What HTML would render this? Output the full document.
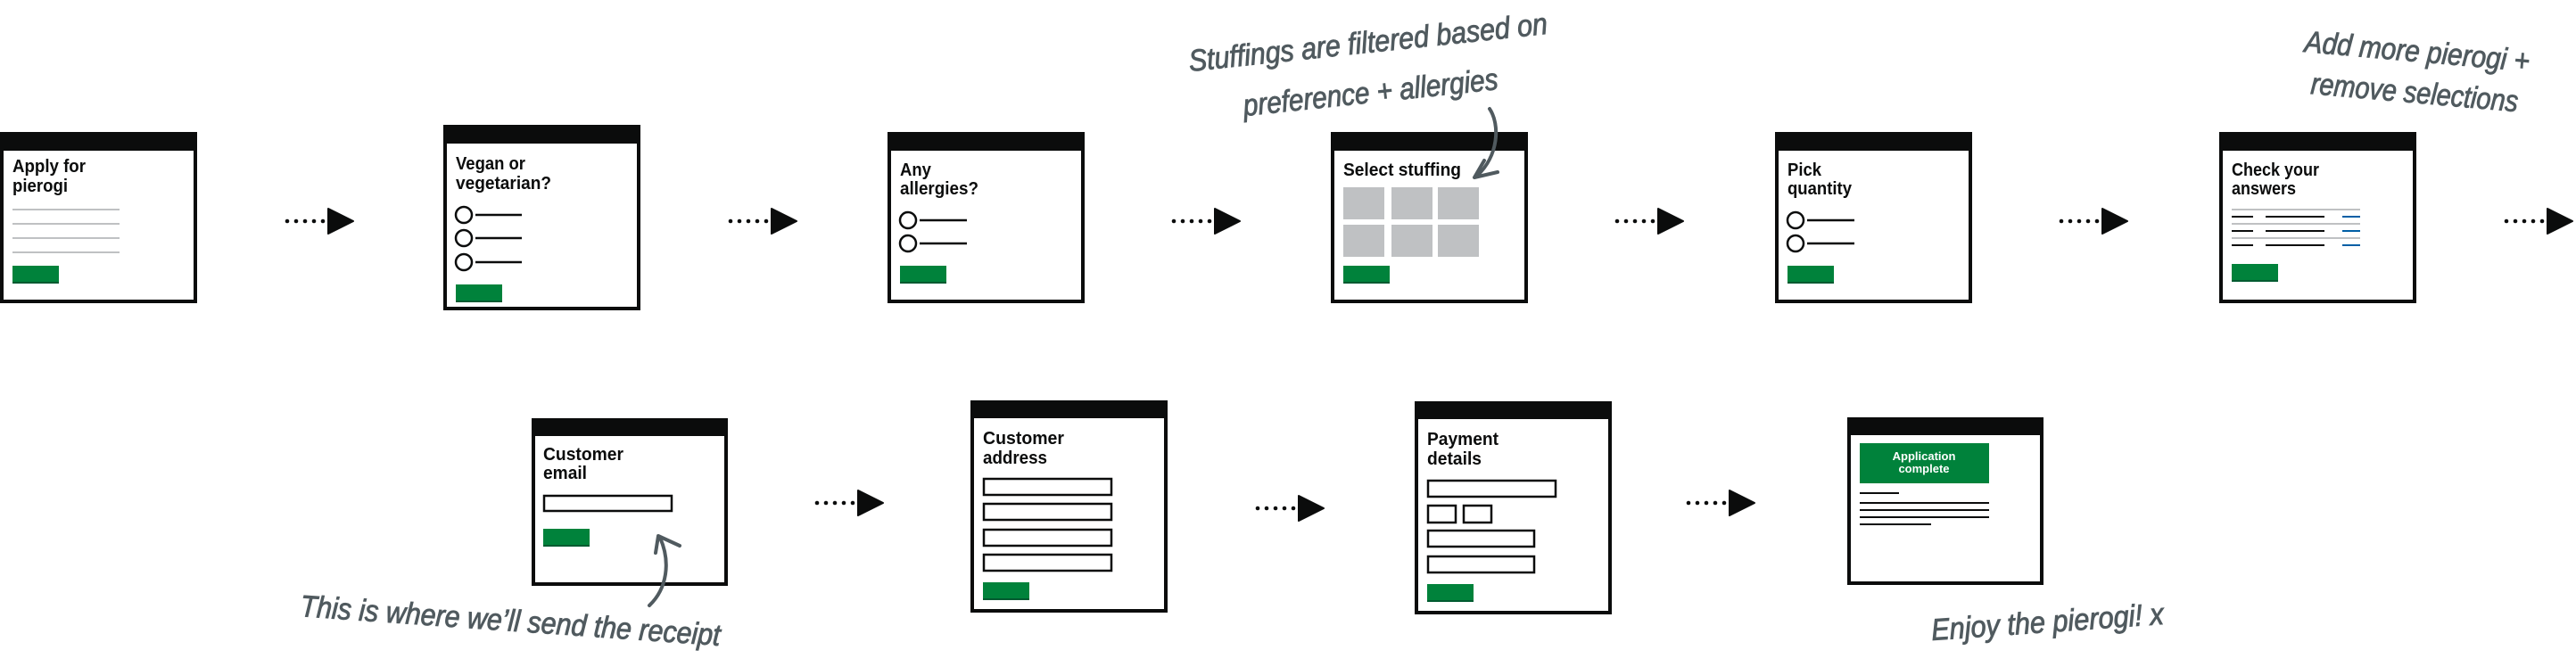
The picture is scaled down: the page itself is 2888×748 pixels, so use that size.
<!DOCTYPE html>
<html><head><meta charset="utf-8"><style>
html,body{margin:0;padding:0;background:#fff;}
svg{display:block}
.t{font-family:"Liberation Sans",sans-serif;font-weight:bold;font-size:20px;fill:#0b0c0c}
.h{font-family:"Liberation Sans",sans-serif;font-style:italic;font-size:34px;fill:#505a5f;stroke:#505a5f;stroke-width:0.9}
</style></head><body>
<svg width="2888" height="748" viewBox="0 0 2888 748" xmlns="http://www.w3.org/2000/svg">
<defs>
<g id="arr"><circle cx="2" cy="0" r="2.3" fill="#0b0c0c"/><circle cx="12" cy="0" r="2.3" fill="#0b0c0c"/><circle cx="22" cy="0" r="2.3" fill="#0b0c0c"/><circle cx="32" cy="0" r="2.3" fill="#0b0c0c"/><circle cx="42" cy="0" r="2.3" fill="#0b0c0c"/><path d="M48,-14 L76,0 L48,14 Z" fill="#0b0c0c" stroke="#0b0c0c" stroke-width="2" stroke-linejoin="round"/></g>
<g id="btn"><rect x="0" y="0" width="52" height="20" fill="#00823b"/><rect x="0" y="18" width="52" height="2" fill="#005a30"/></g>
</defs>

<!-- Box1 -->
<rect x="2" y="150" width="217" height="188" fill="#fff" stroke="#0b0c0c" stroke-width="4"/>
<rect x="0" y="148" width="221" height="21" fill="#0b0c0c"/>
<text class="t" x="14" y="193" textLength="82" lengthAdjust="spacingAndGlyphs">Apply for</text>
<text class="t" x="14" y="215" textLength="62" lengthAdjust="spacingAndGlyphs">pierogi</text>
<g stroke="#bfc1c3" stroke-width="2"><line x1="14" y1="235" x2="134" y2="235"/><line x1="14" y1="251" x2="134" y2="251"/><line x1="14" y1="267" x2="134" y2="267"/><line x1="14" y1="283" x2="134" y2="283"/></g>
<use href="#btn" x="14" y="298"/>
<use href="#arr" x="320" y="248"/>

<!-- Box2 -->
<rect x="499" y="142" width="217" height="204" fill="#fff" stroke="#0b0c0c" stroke-width="4"/>
<rect x="497" y="140" width="221" height="21" fill="#0b0c0c"/>
<text class="t" x="511" y="190" textLength="78" lengthAdjust="spacingAndGlyphs">Vegan or</text>
<text class="t" x="511" y="212" textLength="107" lengthAdjust="spacingAndGlyphs">vegetarian?</text>
<g fill="none" stroke="#0b0c0c" stroke-width="2.5"><circle cx="520" cy="241" r="9"/><circle cx="520" cy="267" r="9"/><circle cx="520" cy="294" r="9"/></g>
<g stroke="#0b0c0c" stroke-width="2.5"><line x1="533" y1="241" x2="585" y2="241"/><line x1="533" y1="267" x2="585" y2="267"/><line x1="533" y1="294" x2="585" y2="294"/></g>
<use href="#btn" x="511" y="319"/>
<use href="#arr" x="817" y="248"/>

<!-- Box3 -->
<rect x="997" y="150" width="217" height="188" fill="#fff" stroke="#0b0c0c" stroke-width="4"/>
<rect x="995" y="148" width="221" height="21" fill="#0b0c0c"/>
<text class="t" x="1009" y="197" textLength="35" lengthAdjust="spacingAndGlyphs">Any</text>
<text class="t" x="1009" y="218" textLength="88" lengthAdjust="spacingAndGlyphs">allergies?</text>
<g fill="none" stroke="#0b0c0c" stroke-width="2.5"><circle cx="1018" cy="247" r="9"/><circle cx="1018" cy="273" r="9"/></g>
<g stroke="#0b0c0c" stroke-width="2.5"><line x1="1031" y1="247" x2="1084" y2="247"/><line x1="1031" y1="273" x2="1084" y2="273"/></g>
<use href="#btn" x="1009" y="298"/>
<use href="#arr" x="1314" y="248"/>

<!-- Box4 -->
<rect x="1494" y="150" width="217" height="188" fill="#fff" stroke="#0b0c0c" stroke-width="4"/>
<rect x="1492" y="148" width="221" height="21" fill="#0b0c0c"/>
<text class="t" x="1506" y="197" textLength="132" lengthAdjust="spacingAndGlyphs">Select stuffing</text>
<g fill="#bfc1c3"><rect x="1506" y="210" width="46" height="36"/><rect x="1560" y="210" width="46" height="36"/><rect x="1612" y="210" width="46" height="36"/><rect x="1506" y="252" width="46" height="36"/><rect x="1560" y="252" width="46" height="36"/><rect x="1612" y="252" width="46" height="36"/></g>
<use href="#btn" x="1506" y="298"/>
<use href="#arr" x="1811" y="248"/>

<!-- Box5 -->
<rect x="1992" y="150" width="217" height="188" fill="#fff" stroke="#0b0c0c" stroke-width="4"/>
<rect x="1990" y="148" width="221" height="21" fill="#0b0c0c"/>
<text class="t" x="2004" y="197" textLength="38" lengthAdjust="spacingAndGlyphs">Pick</text>
<text class="t" x="2004" y="218" textLength="72" lengthAdjust="spacingAndGlyphs">quantity</text>
<g fill="none" stroke="#0b0c0c" stroke-width="2.5"><circle cx="2013" cy="247" r="9"/><circle cx="2013" cy="273" r="9"/></g>
<g stroke="#0b0c0c" stroke-width="2.5"><line x1="2026" y1="247" x2="2079" y2="247"/><line x1="2026" y1="273" x2="2079" y2="273"/></g>
<use href="#btn" x="2004" y="298"/>
<use href="#arr" x="2309" y="248"/>

<!-- Box6 -->
<rect x="2490" y="150" width="217" height="188" fill="#fff" stroke="#0b0c0c" stroke-width="4"/>
<rect x="2488" y="148" width="221" height="21" fill="#0b0c0c"/>
<text class="t" x="2502" y="197" textLength="98" lengthAdjust="spacingAndGlyphs">Check your</text>
<text class="t" x="2502" y="218" textLength="72" lengthAdjust="spacingAndGlyphs">answers</text>
<g stroke="#bfc1c3" stroke-width="2"><line x1="2502" y1="235" x2="2646" y2="235"/><line x1="2502" y1="251" x2="2646" y2="251"/><line x1="2502" y1="267" x2="2646" y2="267"/></g>
<g stroke="#0b0c0c" stroke-width="2"><line x1="2502" y1="243" x2="2526" y2="243"/><line x1="2540" y1="243" x2="2606" y2="243"/><line x1="2502" y1="259" x2="2526" y2="259"/><line x1="2540" y1="259" x2="2606" y2="259"/><line x1="2502" y1="275" x2="2526" y2="275"/><line x1="2540" y1="275" x2="2606" y2="275"/></g>
<g stroke="#005ea5" stroke-width="2"><line x1="2626" y1="243" x2="2646" y2="243"/><line x1="2626" y1="259" x2="2646" y2="259"/><line x1="2626" y1="275" x2="2646" y2="275"/></g>
<use href="#btn" x="2502" y="296"/>
<use href="#arr" x="2808" y="248"/>

<!-- Box7 -->
<rect x="598" y="471" width="216" height="184" fill="#fff" stroke="#0b0c0c" stroke-width="4"/>
<rect x="596" y="469" width="220" height="20" fill="#0b0c0c"/>
<text class="t" x="609" y="516" textLength="90" lengthAdjust="spacingAndGlyphs">Customer</text>
<text class="t" x="609" y="537" textLength="49" lengthAdjust="spacingAndGlyphs">email</text>
<rect x="610" y="556" width="143" height="17" fill="none" stroke="#0b0c0c" stroke-width="2.5"/>
<use href="#btn" x="609" y="593"/>
<use href="#arr" x="914" y="564"/>

<!-- Box8 -->
<rect x="1090" y="451" width="217" height="234" fill="#fff" stroke="#0b0c0c" stroke-width="4"/>
<rect x="1088" y="449" width="221" height="20" fill="#0b0c0c"/>
<text class="t" x="1102" y="498" textLength="91" lengthAdjust="spacingAndGlyphs">Customer</text>
<text class="t" x="1102" y="520" textLength="72" lengthAdjust="spacingAndGlyphs">address</text>
<g fill="none" stroke="#0b0c0c" stroke-width="2.5"><rect x="1103" y="537" width="143" height="18"/><rect x="1103" y="565" width="143" height="18"/><rect x="1103" y="594" width="143" height="18"/><rect x="1103" y="622" width="143" height="18"/></g>
<use href="#btn" x="1102" y="653"/>
<use href="#arr" x="1408" y="570"/>

<!-- Box9 -->
<rect x="1588" y="452" width="217" height="235" fill="#fff" stroke="#0b0c0c" stroke-width="4"/>
<rect x="1586" y="450" width="221" height="20" fill="#0b0c0c"/>
<text class="t" x="1600" y="499" textLength="80" lengthAdjust="spacingAndGlyphs">Payment</text>
<text class="t" x="1600" y="521" textLength="61" lengthAdjust="spacingAndGlyphs">details</text>
<g fill="none" stroke="#0b0c0c" stroke-width="2.5"><rect x="1601" y="539" width="143" height="18"/><rect x="1601" y="567" width="31" height="19"/><rect x="1641" y="567" width="31" height="19"/><rect x="1601" y="595" width="119" height="18"/><rect x="1601" y="624" width="119" height="18"/></g>
<use href="#btn" x="1600" y="655"/>
<use href="#arr" x="1891" y="564"/>

<!-- Box10 -->
<rect x="2073" y="470" width="216" height="184" fill="#fff" stroke="#0b0c0c" stroke-width="4"/>
<rect x="2071" y="468" width="220" height="20" fill="#0b0c0c"/>
<rect x="2085" y="497" width="145" height="45" fill="#00823b"/>
<text x="2157" y="516" text-anchor="middle" font-family="Liberation Sans, sans-serif" font-weight="bold" font-size="13" fill="#fff">Application</text>
<text x="2157" y="530" text-anchor="middle" font-family="Liberation Sans, sans-serif" font-weight="bold" font-size="13" fill="#fff">complete</text>
<g stroke="#0b0c0c" stroke-width="2"><line x1="2085" y1="553" x2="2129" y2="553"/><line x1="2085" y1="564" x2="2230" y2="564"/><line x1="2085" y1="572" x2="2230" y2="572"/><line x1="2085" y1="580" x2="2230" y2="580"/><line x1="2085" y1="588" x2="2165" y2="588"/></g>

<!-- Annotations -->
<text class="h" transform="translate(1334,80) rotate(-6)" textLength="404" lengthAdjust="spacingAndGlyphs">Stuffings are filtered based on</text>
<text class="h" transform="translate(1395,130) rotate(-6)" textLength="287" lengthAdjust="spacingAndGlyphs">preference + allergies</text>
<g fill="none" stroke="#505a5f" stroke-width="4" stroke-linecap="round" stroke-linejoin="round">
<path d="M1670,122 C1682,140 1680,175 1656,197"/>
<path d="M1664,180 L1653,199 L1679,193"/>
</g>

<text class="h" transform="translate(2583,58) rotate(5)" textLength="253" lengthAdjust="spacingAndGlyphs">Add more pierogi +</text>
<text class="h" transform="translate(2590,105) rotate(5)" textLength="233" lengthAdjust="spacingAndGlyphs">remove selections</text>

<text class="h" transform="translate(336,691) rotate(4)" textLength="472" lengthAdjust="spacingAndGlyphs">This is where we’ll send the receipt</text>
<g fill="none" stroke="#505a5f" stroke-width="4" stroke-linecap="round" stroke-linejoin="round">
<path d="M728,679 C748,660 752,630 740,603"/>
<path d="M735,620 L738,601 L762,612"/>
</g>

<text class="h" transform="translate(2166,718) rotate(-4)" textLength="261" lengthAdjust="spacingAndGlyphs">Enjoy the pierogi! x</text>
</svg>
</body></html>
